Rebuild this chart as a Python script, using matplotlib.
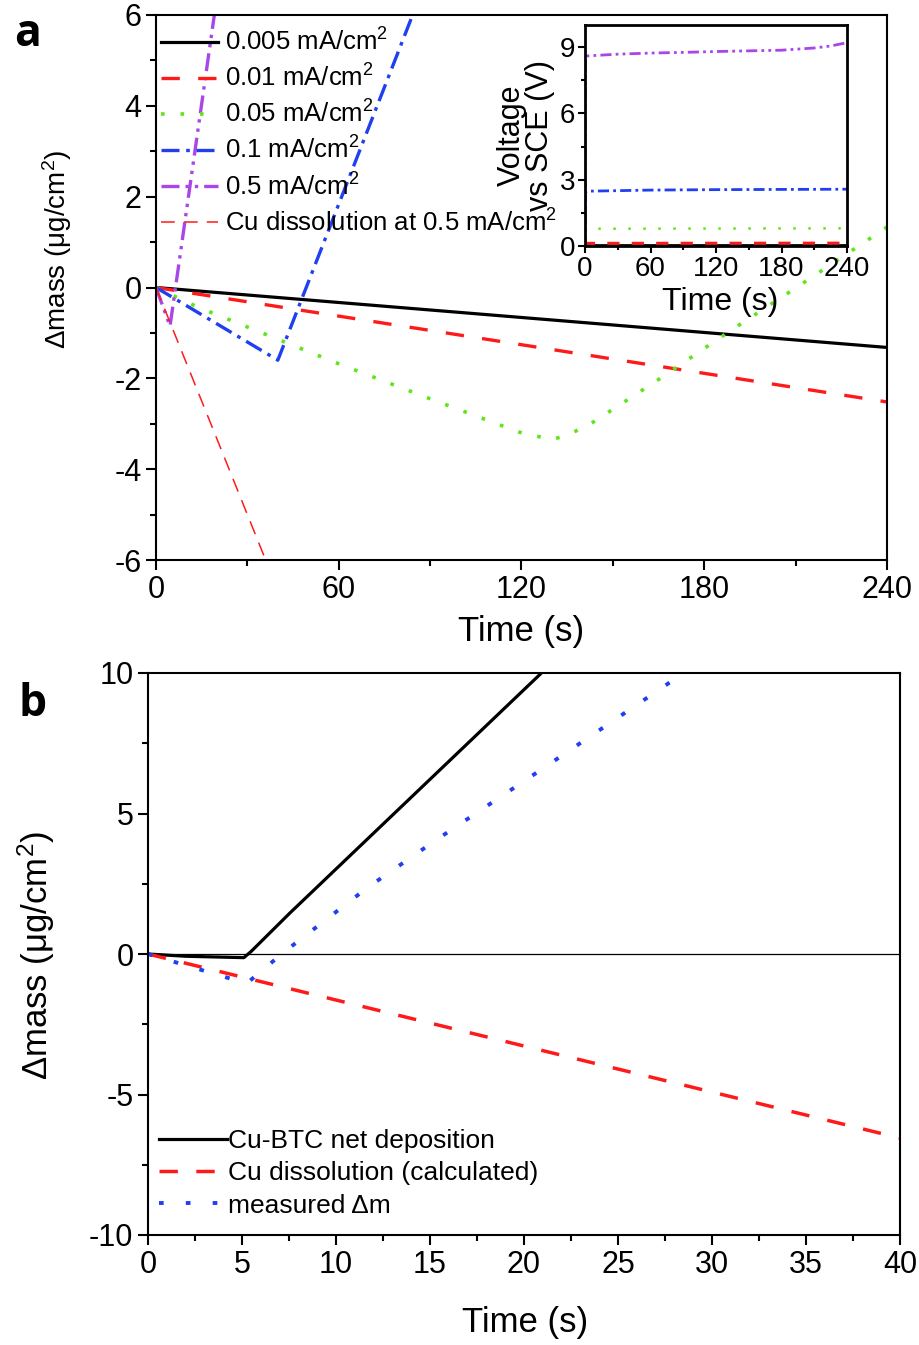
import matplotlib
matplotlib.use("Agg")
import matplotlib.pyplot as plt
from matplotlib.ticker import MultipleLocator

plt.rcParams['font.family'] = ['Liberation Sans', 'DejaVu Sans']
plt.rcParams['mathtext.fontset'] = 'custom'
plt.rcParams['mathtext.rm'] = 'Liberation Sans'
plt.rcParams['mathtext.default'] = 'regular'
plt.rcParams['axes.linewidth'] = 1.5
plt.rcParams['axes.unicode_minus'] = False

# ---- panel a: mass change at different current densities ----
t_005 = [0, 240]
m_005 = [0, -1.32]
t_001 = [0, 240]
m_001 = [0, -2.52]
t_05g = [0, 13, 60, 90, 119, 130, 135, 142, 163.8, 188.4, 210.5, 240]
m_05g = [0, -0.41, -1.68, -2.45, -3.18, -3.35, -3.25, -3.03, -2.08, -0.96, 0.01, 1.33]
t_01 = [0, 40, 86]
m_01 = [0, -1.6, 6.3]
t_5 = [0, 4.6, 20]
m_5 = [0, -0.85, 6.4]
t_cu5 = [0, 36, 240]
m_cu5 = [0, -6.0, -6.0]

labels_a = ["0.005 mA/cm$^2$", "0.01 mA/cm$^2$", "0.05 mA/cm$^2$",
            "0.1 mA/cm$^2$", "0.5 mA/cm$^2$", "Cu dissolution at 0.5 mA/cm$^2$"]

# ---- inset: voltage vs SCE ----
vt_5 = [0, 0.5, 2, 30, 60, 90, 120, 150, 180, 210, 225, 240]
v_5 = [0, 8.55, 8.6, 8.68, 8.73, 8.76, 8.8, 8.83, 8.86, 8.96, 9.05, 9.2]
vt_01 = [0, 0.5, 2, 60, 120, 180, 240]
v_01 = [0, 2.45, 2.48, 2.53, 2.55, 2.56, 2.57]
vt_05 = [0, 0.5, 240]
v_05 = [0, 0.78, 0.8]
vt_001 = [0, 0.5, 240]
v_001 = [0, 0.12, 0.13]
vt_005 = [0, 240]
v_005 = [0.05, 0.05]

# ---- panel b: 0.5 mA/cm2 breakdown ----
tb_net = [0, 2, 5.1, 5.5, 7.55, 20.85, 21.5]
mb_net = [0, -0.08, -0.13, 0.1, 1.46, 9.95, 10.4]
tb_cu = [0, 40]
mb_cu = [0, -6.55]
tb_meas = [0, 2.5, 4.9, 5.3, 7.2, 11.65, 15.2, 21, 27.9, 28.5]
mb_meas = [0, -0.5, -0.98, -1.02, 0.05, 2.35, 4.0, 6.6, 9.73, 10.05]

labels_b = ["Cu-BTC net deposition", "Cu dissolution (calculated)", "measured Δm"]

ylab = "Δmass (μg/cm$^2$)"

fig = plt.figure(figsize=(9.2, 13.45), dpi=100)

def style_ticks(ax, size):
    ax.tick_params(which='both', direction='out', top=False, right=False,
                   labelsize=size, width=1.5)
    ax.tick_params(which='major', length=7)
    ax.tick_params(which='minor', length=4)

# panel a
axa = fig.add_axes([156/920, 1-560/1345, 731/920, 545/1345])
axa.plot(t_005, m_005, color='black', lw=2.3, label=labels_a[0])
axa.plot(t_001, m_001, color='#ff1a1a', lw=2.4, dashes=(5.5, 5.5), label=labels_a[1])
axa.plot(t_05g, m_05g, color='#5fe61a', lw=2.6, dashes=(1.0, 4.4), label=labels_a[2])
axa.plot(t_01, m_01, color='#1f3ff0', lw=2.4, dashes=(5.4, 2.0, 1.1, 2.0), label=labels_a[3])
axa.plot(t_5, m_5, color='#a846e8', lw=2.4, dashes=(5.4, 1.8, 1.0, 1.8, 1.0, 1.8), label=labels_a[4])
axa.plot(t_cu5, m_cu5, color='#ff1a1a', lw=1.1, dashes=(9, 6), label=labels_a[5])
axa.set_xlim(0, 240)
axa.set_ylim(-6, 6)
axa.xaxis.set_major_locator(MultipleLocator(60))
axa.xaxis.set_minor_locator(MultipleLocator(30))
axa.yaxis.set_major_locator(MultipleLocator(2))
axa.yaxis.set_minor_locator(MultipleLocator(1))
style_ticks(axa, 22)
axa.set_xlabel("Time (s)", fontsize=25)
axa.set_ylabel(ylab, fontsize=20)
axa.xaxis.set_label_coords(0.499, -0.132)
axa.xaxis.label.set_va('center')
axa.yaxis.set_label_coords(-0.135, 0.57)
axa.yaxis.label.set_va('center')
axa.legend(loc='upper left', bbox_to_anchor=(0.0, 0.985), frameon=False, fontsize=18.5,
           handlelength=2.2, handletextpad=0.3, labelspacing=0.35, borderaxespad=0.0,
           borderpad=0.2)

# inset
axi = fig.add_axes([585/920, 1-246/1345, 262/920, 221/1345])
axi.plot(vt_005, v_005, color='black', lw=2.0)
axi.plot(vt_001, v_001, color='#ff1a1a', lw=2.2, dashes=(4, 4))
axi.plot(vt_05, v_05, color='#5fe61a', lw=1.8, dashes=(1, 5))
axi.plot(vt_01, v_01, color='#1f3ff0', lw=2.0, dashes=(4, 1.5, 1, 1.5))
axi.plot(vt_5, v_5, color='#a846e8', lw=2.0, dashes=(4, 1.5, 1, 1.5, 1, 1.5))
axi.set_xlim(0, 240)
axi.set_ylim(0, 10)
axi.xaxis.set_major_locator(MultipleLocator(60))
axi.xaxis.set_minor_locator(MultipleLocator(30))
axi.yaxis.set_major_locator(MultipleLocator(3))
axi.yaxis.set_minor_locator(MultipleLocator(1.5))
style_ticks(axi, 20)
axi.tick_params(which='major', length=5, pad=2)
axi.tick_params(which='minor', length=3)
for s in axi.spines.values():
    s.set_linewidth(2)
axi.set_xlabel("Time (s)", fontsize=23)
axi.set_ylabel("Voltage\nvs SCE (V)", fontsize=22, linespacing=0.95)
axi.xaxis.set_label_coords(0.515, -0.253)
axi.xaxis.label.set_va('center')
axi.yaxis.set_label_coords(-0.225, 0.5)
axi.yaxis.label.set_va('center')

# panel b
axb = fig.add_axes([148/920, 1-1235/1345, 752/920, 562/1345])
axb.axhline(0, color='black', lw=0.9)
axb.plot(tb_net, mb_net, color='black', lw=2.3, label=labels_b[0])
axb.plot(tb_cu, mb_cu, color='#ff1a1a', lw=2.5, dashes=(5.3, 5.3), label=labels_b[1])
axb.plot(tb_meas, mb_meas, color='#1f3ff0', lw=2.8, dashes=(1.2, 5.7), label=labels_b[2])
axb.set_xlim(0, 40)
axb.set_ylim(-10, 10)
axb.xaxis.set_major_locator(MultipleLocator(5))
axb.xaxis.set_minor_locator(MultipleLocator(2.5))
axb.yaxis.set_major_locator(MultipleLocator(5))
axb.yaxis.set_minor_locator(MultipleLocator(2.5))
style_ticks(axb, 22)
axb.set_xlabel("Time (s)", fontsize=25)
axb.set_ylabel(ylab, fontsize=25)
axb.xaxis.set_label_coords(0.501, -0.155)
axb.xaxis.label.set_va('center')
axb.yaxis.set_label_coords(-0.148, 0.498)
axb.yaxis.label.set_va('center')
axb.legend(loc='lower left', bbox_to_anchor=(0.0, 0.012), frameon=False, fontsize=19,
           handlelength=2.6, handletextpad=0.05, labelspacing=0.32, borderaxespad=0.3,
           borderpad=0.1)

fig.text(28/920, 1-35/1345, "a", fontsize=32, fontweight='bold', family='Open Sans',
         ha='center', va='center')
fig.text(33/920, 1-705/1345, "b", fontsize=32, fontweight='bold', family='Open Sans',
         ha='center', va='center')

fig.savefig("out.png", dpi=100)
